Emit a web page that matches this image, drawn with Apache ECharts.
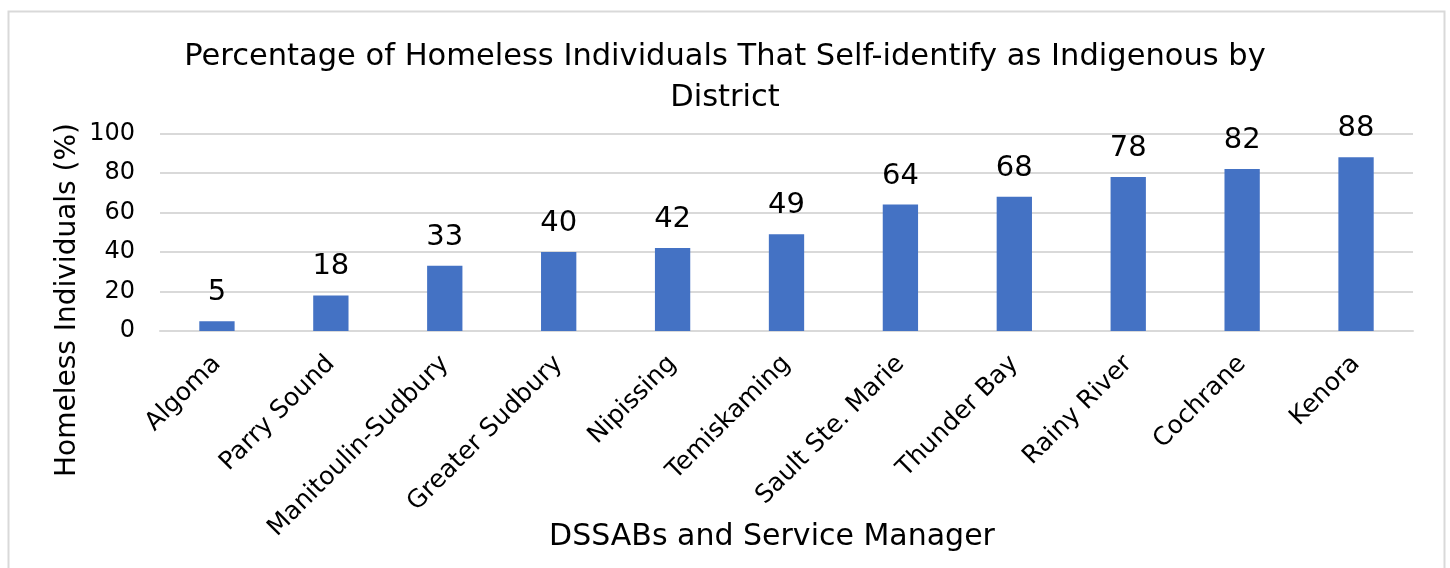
<!DOCTYPE html>
<html><head><meta charset="utf-8">
<script src="https://cdn.jsdelivr.net/npm/echarts@6/dist/echarts.min.js"></script>
<style>html,body{margin:0;padding:0;background:#fff}#c{width:1450px;height:568px}</style>
</head><body><div id="c"></div>
<script>
const categories = ['Algoma','Parry Sound','Manitoulin-Sudbury','Greater Sudbury','Nipissing','Temiskaming','Sault Ste. Marie','Thunder Bay','Rainy River','Cochrane','Kenora'];
const values = [5,18,33,40,42,49,64,68,78,82,88];
const yTicks = [0,20,40,60,80,100];
const titleText = 'Percentage of Homeless Individuals That Self-identify as Indigenous by\nDistrict';
const xName = 'DSSABs and Service Manager';
const yName = 'Homeless Individuals (%)';
const FONT = 'DejaVu Sans';
const chart = echarts.init(document.getElementById('c'));
chart.setOption({
  animation:false,
  textStyle:{fontFamily:FONT},
  graphic:[
    {type:'rect',shape:{x:8.5,y:11.5,width:1436,height:600},style:{fill:'none',stroke:'#d9d9d9',lineWidth:2},silent:true},
    {type:'text',x:68,y:300,rotation:Math.PI/2,style:{text:yName,font:'28px "DejaVu Sans"',fill:'#000',textAlign:'center',textVerticalAlign:'middle'}},
    {type:'text',x:772,y:537,style:{text:xName,font:'30px "DejaVu Sans"',fill:'#000',textAlign:'center',textVerticalAlign:'middle'}}
  ],
  title:{text:titleText,left:'center',top:32,textStyle:{fontFamily:FONT,fontSize:30.5,fontWeight:'normal',color:'#000',lineHeight:41}},
  grid:{left:160,right:37,top:133.5,bottom:237,containLabel:false},
  xAxis:{type:'category',data:categories,
    axisLine:{lineStyle:{color:'#d9d9d9',width:2}},axisTick:{show:false},
    axisLabel:{rotate:45,fontSize:25,color:'#000',fontFamily:FONT,margin:29,interval:0}},
  yAxis:{type:'value',min:0,max:100,interval:20,
    axisLine:{show:false},axisTick:{show:false},
    splitLine:{lineStyle:{color:'#d9d9d9',width:2}},
    axisLabel:{fontSize:24,color:'#000',fontFamily:FONT,margin:25,formatter:v=>yTicks.includes(v)?String(v):''}},
  series:[{type:'bar',data:values,barWidth:'31%',itemStyle:{color:'#4472C4'},
    label:{show:true,position:'top',distance:14,fontSize:29,color:'#000',fontFamily:FONT}}]
});
</script></body></html>
